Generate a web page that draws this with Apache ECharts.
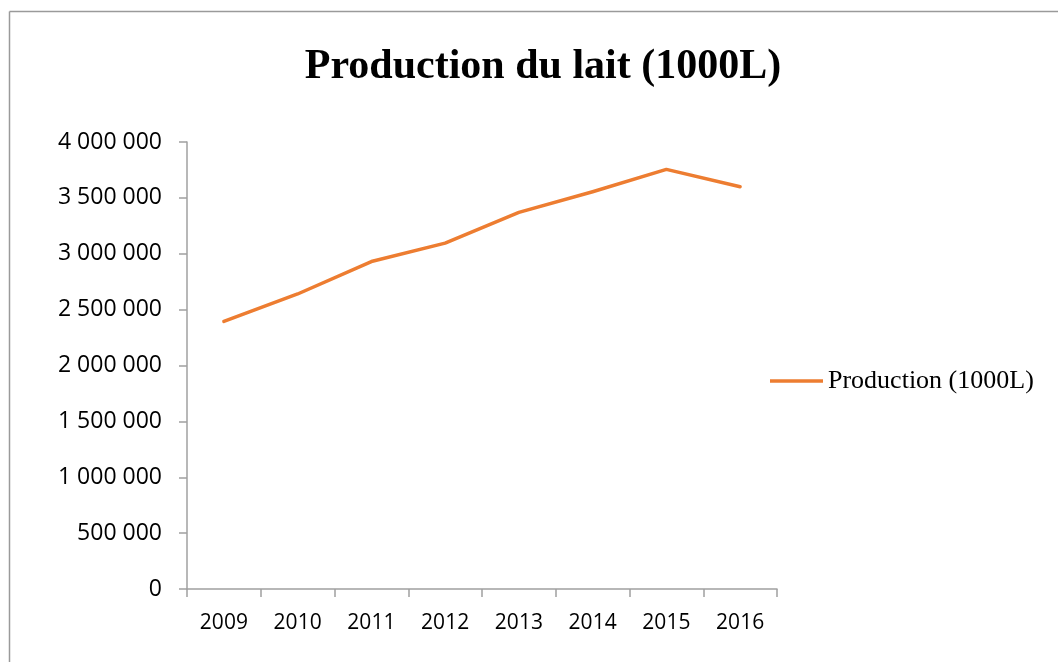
<!DOCTYPE html>
<html>
    <head>
        <meta charset="utf-8">
        <title>Production du lait</title>
        <style>
            html, body { margin: 0; padding: 0; background: #fff; }
            #chart { width: 1058px; height: 662px; }
        </style>
    </head>
    <body>
        <div id="chart"></div>
        <script src="https://cdn.jsdelivr.net/npm/echarts@6/dist/echarts.min.js"></script>
        <script>
            var years = ['2009', '2010', '2011', '2012', '2013', '2014', '2015', '2016'];
            var production = [2395000, 2640000, 2930000, 3095000, 3370000, 3555000, 3755000, 3600000];
            var seriesName = 'Production (1000L)';
            var titleText = 'Production du lait (1000L)';

            function fmt(v) {
                return String(v).replace(/\B(?=(\d{3})+(?!\d))/g, ' ');
            }

            var myChart = echarts.init(document.getElementById('chart'));
            var option = {
                animation: false,
                backgroundColor: '#fff',
                title: {
                    text: titleText,
                    left: 538,
                    textAlign: 'center',
                    top: 41,
                    textStyle: {
                        fontFamily: 'Liberation Serif',
                        fontWeight: 'bold',
                        fontSize: 42,
                        color: '#000'
                    }
                },
                legend: {
                    left: 770,
                    top: 368,
                    padding: 0,
                    icon: 'rect',
                    itemWidth: 53,
                    itemHeight: 3.5,
                    itemGap: 5,
                    textStyle: {
                        fontFamily: 'Liberation Serif',
                        fontSize: 26,
                        color: '#000'
                    },
                    data: [seriesName]
                },
                graphic: [
                    { type: 'line', shape: { x1: 9.5, y1: 11.5, x2: 1058, y2: 11.5 }, style: { stroke: '#9a9a9a', lineWidth: 1.5 } },
                    { type: 'line', shape: { x1: 9.5, y1: 11.5, x2: 9.5, y2: 662 }, style: { stroke: '#9a9a9a', lineWidth: 1.5 } }
                ],
                grid: { left: 187, right: 281, top: 142, bottom: 73 },
                xAxis: {
                    type: 'category',
                    data: years,
                    boundaryGap: true,
                    axisLine: { lineStyle: { color: '#a0a0a0', width: 1.5 } },
                    axisTick: { show: true, length: 8, lineStyle: { color: '#a0a0a0', width: 1.5 } },
                    axisLabel: {
                        margin: 24,
                        fontFamily: 'Open Sans',
                        fontSize: 21,
                        color: '#000'
                    },
                    splitLine: { show: false }
                },
                yAxis: {
                    type: 'value',
                    min: 0,
                    max: 4000000,
                    interval: 500000,
                    axisLine: { show: true, lineStyle: { color: '#a0a0a0', width: 1.5 } },
                    axisTick: { show: true, length: 8, lineStyle: { color: '#a0a0a0', width: 1.5 } },
                    axisLabel: {
                        margin: 25,
                        fontFamily: 'Open Sans',
                        fontSize: 23,
                        color: '#000',
                        formatter: fmt
                    },
                    splitLine: { show: false }
                },
                series: [
                    {
                        name: seriesName,
                        type: 'line',
                        data: production,
                        showSymbol: false,
                        symbol: 'none',
                        lineStyle: { color: '#ED7D31', width: 3.5, cap: 'round', join: 'round' },
                        itemStyle: { color: '#ED7D31' }
                    }
                ]
            };
            option && myChart.setOption(option);
        </script>
    </body>
</html>
